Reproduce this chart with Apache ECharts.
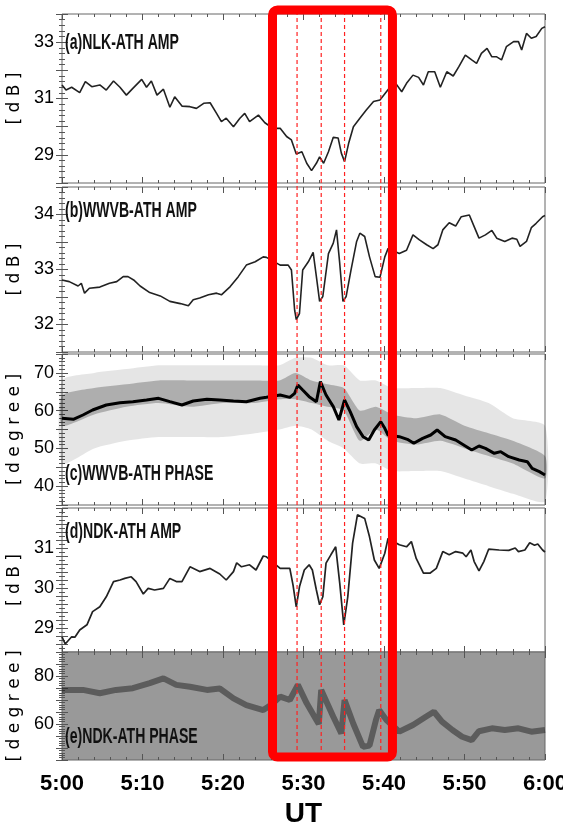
<!DOCTYPE html>
<html lang="en">
<head>
<meta charset="UTF-8">
<title>VLF amplitude / phase</title>
<style>html,body{margin:0;padding:0;background:#fff;}</style>
</head>
<body>
<div id="main" style="width:563px;height:826px;"></div>
<script src="https://cdn.jsdelivr.net/npm/echarts@6/dist/echarts.min.js"></script>
<script>
// time in minutes after 5:00 UT
var xTickLabels = ['5:00', '5:10', '5:20', '5:30', '5:40', '5:50', '6:00'];

// (a) NLK-ATH amplitude [dB]
var aTime = [0,0.5,1.2,2.2,2.9,3.7,4.7,5.5,6.4,7.2,8.0,8.8,9.9,10.5,11.1,11.8,12.6,13.4,14.0,14.9,15.9,16.7,17.6,18.4,19.2,19.8,20.4,21.3,22.1,22.7,23.3,24.4,25.2,26.2,27.1,27.9,28.5,29.1,29.8,30.4,31.0,31.6,32.0,32.5,33.1,33.7,34.3,34.7,35.1,35.6,36.2,37.0,37.8,38.7,39.5,40.3,41.3,42.2,42.8,43.6,44.3,44.9,45.5,46.3,47.0,47.8,48.6,49.3,50.1,50.9,51.5,52.1,52.8,53.4,54.0,54.6,55.2,56.1,56.7,57.1,57.7,58.3,58.9,59.6,60];
var aAmp = [31.48,31.30,31.40,31.21,31.60,31.42,31.48,31.30,31.62,31.40,31.12,31.36,31.68,31.40,31.62,31.12,31.33,30.69,31.06,30.73,30.71,30.65,30.83,30.85,30.47,30.18,30.30,30.00,30.30,30.47,30.18,30.41,30.14,29.94,29.94,29.65,29.53,29.03,29.11,28.70,28.44,28.70,28.93,28.70,29.11,29.62,29.60,29.06,28.76,29.40,30.00,30.30,30.59,30.89,30.95,31.24,31.60,31.24,31.54,31.83,31.75,31.48,31.95,31.95,31.40,31.95,31.80,32.13,32.54,32.37,32.25,32.60,32.78,32.48,32.48,32.37,32.84,33.02,33.02,32.72,33.31,33.14,33.20,33.49,33.55];

// (b) WWVB-ATH amplitude [dB]
var bTime = [0,0.9,2.0,2.4,2.8,3.4,4.7,5.9,6.8,7.6,8.2,8.9,9.7,10.9,12.2,13.4,14.7,15.7,16.3,17.1,18.2,19.2,19.8,20.9,21.9,22.9,24.0,25.0,25.4,27.1,28.1,28.5,28.9,29.1,29.5,29.9,30.6,31.2,31.6,32.0,32.4,33.1,33.7,34.1,34.5,34.9,35.3,35.9,36.6,37.0,37.6,38.2,38.9,39.5,40.1,40.5,41.9,42.8,43.6,44.4,45.3,46.1,46.7,47.3,48.1,48.9,49.6,50.6,51.2,51.8,52.6,53.4,54.0,55.0,55.9,56.5,56.9,57.7,58.3,58.9,59.7,60];
var bAmp = [32.81,32.78,32.70,32.75,32.57,32.66,32.68,32.75,32.78,32.87,32.87,32.81,32.70,32.58,32.52,32.42,32.38,32.34,32.45,32.48,32.54,32.57,32.54,32.69,32.87,33.08,33.14,33.23,33.22,33.08,33.08,32.99,32.26,32.09,32.20,32.99,33.14,33.31,32.87,32.42,32.51,33.29,33.48,33.72,33.11,32.42,32.51,32.99,33.51,33.66,33.60,33.23,32.87,32.86,33.23,33.38,33.29,33.35,33.63,33.54,33.45,33.38,33.45,33.72,33.85,33.79,33.96,33.99,33.78,33.57,33.63,33.71,33.57,33.51,33.57,33.55,33.42,33.51,33.76,33.84,33.96,33.98];

// (c) WWVB-ATH phase [degree]: main trace
var cTime = [0,1.4,2.6,3.8,5.5,7.2,8.8,10.5,12.0,13.4,14.9,16.3,18.0,19.6,21.3,22.9,24.6,25.4,27.1,28.3,28.9,29.3,29.9,30.7,31.6,32.1,32.8,33.7,34.4,35.1,35.8,36.6,37.4,38.1,38.8,39.6,40.1,40.5,41.9,42.9,43.7,44.8,45.8,46.6,47.6,48.9,50.1,50.9,51.8,52.6,53.7,54.5,55.5,56.8,57.8,58.4,59.3,60];
var cPhase = [57.96,57.69,58.84,60.17,61.49,62.11,62.37,62.81,63.26,62.37,61.49,62.55,62.99,62.81,62.55,62.37,63.26,63.52,64.14,63.52,64.58,66.79,65.46,63.70,62.37,67.67,64.14,61.05,57.52,62.81,59.72,55.75,53.10,52.22,54.87,57.07,55.31,53.54,53.10,52.40,51.34,52.66,53.54,54.87,53.10,52.22,50.63,49.57,50.63,50.01,48.69,49.13,47.80,46.92,46.48,44.71,43.83,42.95];
// (c) extent of the scattered points and of their dense core
var cBandTime = [0,4,8,12,16,20,24,27,29,31,33,35,37,39,41,44,47,50,53,56,60];
var cCloudHi = [68,70,71,72,72,72,72,72,74,74,72,72,68,68,66,66,66,64,62,58,56];
var cCloudLo = [46,50,52,53,53,53,54,55,56,55,52,50,46,46,44,44,44,42,40,38,36];
var cCoreHi = [64,66,67,68,68,68,68,68,70,68,67,66,60,61,59,58,59,56,54,52,48];
var cCoreLo = [56,59,61,62,61,62,62,63,63,62,61,60,52,55,52,51,52,50,48,46,42];

// (d) NDK-ATH amplitude [dB]
var dTime = [0,0.4,1.2,1.6,2.2,3.1,3.8,4.7,5.5,6.4,7.2,7.8,8.6,9.2,10.1,10.7,11.5,12.6,13.4,14.2,14.9,15.9,17.1,18.4,19.6,20.4,21.3,21.7,22.3,23.3,24.1,25.0,25.4,27.1,28.3,28.7,29.1,29.5,30.1,30.7,31.1,31.6,32.0,32.4,32.8,33.4,34.0,34.5,35.0,35.5,36.1,36.7,37.6,38.2,38.8,39.4,40.1,40.5,41.9,42.8,43.4,44.0,44.9,45.7,46.5,47.3,48.1,48.9,49.8,50.2,50.8,51.2,51.8,52.4,53.0,54.3,55.5,56.3,56.7,57.5,58.1,58.7,59.1,59.7,60];
var dAmp = [28.78,28.60,28.78,28.77,28.95,29.08,29.41,29.53,29.78,30.16,30.20,30.24,30.28,30.16,29.85,29.99,29.95,29.99,30.24,30.16,30.16,30.53,30.41,30.49,30.35,30.20,30.41,30.63,30.53,30.58,30.45,30.80,30.78,30.49,30.49,30.07,29.53,30.03,30.45,30.58,30.45,29.95,29.58,29.78,30.62,30.83,31.03,30.12,29.08,29.78,31.12,31.83,31.74,31.28,30.70,30.49,30.87,31.24,31.08,31.03,31.16,30.74,30.37,30.37,30.49,30.91,30.83,30.91,30.87,30.78,30.95,30.66,30.43,30.66,30.97,30.95,30.94,31.00,30.91,30.95,31.13,31.07,31.10,30.95,30.90];

// (e) NDK-ATH phase [degree]: dark trace inside the noise
var eTime = [0,2.6,4.7,6.7,8.8,10.9,12.6,14.2,15.9,18.0,19.6,21.3,22.9,25.0,26.0,27.1,28.3,29.3,30.4,31.6,31.9,32.2,33.7,34.7,35.1,36.2,37.4,38.2,39.0,39.4,40.3,41.9,43.6,45.2,46.2,47.2,48.5,49.7,50.9,51.8,53.4,55.0,56.7,58.3,60];
var ePhase = [74.2,74.2,72.8,74.2,74.9,77.0,79.0,76.3,75.5,74.2,74.8,70.7,67.9,65.8,68.0,71.4,70.0,76.3,68.6,61.7,60.0,74.2,63.0,56.1,70.0,60.0,50.5,51.0,61.7,65.8,61.7,56.8,59.6,63.0,65.1,61.0,57.5,54.7,53.3,57.0,58.2,57.5,58.2,56.8,57.5];

// event markers
var eventTimes = [29.2, 32.2, 35.1, 39.6];
var boxRange = [26.15, 41.05];

// axis labels
var aYLabels = [29, 31, 33];
var bYLabels = [32, 33, 34];
var cYLabels = [40, 50, 60, 70];
var dYLabels = [29, 30, 31];
var eYLabels = [60, 80];

var panelTitles = ['(a)NLK-ATH AMP', '(b)WWVB-ATH AMP', '(c)WWVB-ATH PHASE', '(d)NDK-ATH AMP', '(e)NDK-ATH PHASE'];
var panelUnits = ['[ d B ]', '[ d B ]', '[ d e g r e e ]', '[ d B ]', '[ d e g r e e ]'];

var sans = "'Liberation Sans', Arial, sans-serif";

var panels = [
    {top: 14, height: 169, min: 28, max: 34, interval: 1, minor: 5, labels: aYLabels, titleY: 43},
    {top: 187, height: 165, min: 31.5, max: 34.5, interval: 0.5, minor: 5, labels: bYLabels, titleY: 211},
    {top: 354, height: 151, min: 35, max: 75, interval: 5, minor: 5, labels: cYLabels, titleY: 474},
    {top: 508, height: 144, min: 28.4, max: 32, interval: 0.2, minor: 2, labels: dYLabels, titleY: 532},
    {top: 652, height: 108, min: 45, max: 90, interval: 5, minor: 5, labels: eYLabels, titleY: 737}
];

function zip(xs, ys) {
    return xs.map(function (x, i) { return [x, ys[i]]; });
}

var grids = [], xAxes = [], yAxes = [], graphics = [], series = [];
var tickStyle = {color: '#555', width: 1};

panels.forEach(function (p, i) {
    grids.push({
        left: 62, right: 18, top: p.top, height: p.height, outerBoundsMode: 'none',
        show: true, borderColor: '#666', borderWidth: 1,
        backgroundColor: i === 4 ? '#999' : 'transparent'
    });
    // condensed panel captions
    graphics.push({
        type: 'text', x: 65, y: p.titleY, scaleX: 0.64, z: 50, silent: true,
        style: {text: panelTitles[i], font: "bold 22px 'Liberation Sans', Arial, sans-serif", fill: '#111', verticalAlign: 'middle'}
    });
    var labs = p.labels;
    xAxes[i] = {
        type: 'value', gridIndex: i, min: 0, max: 60, interval: 10,
        axisLine: {show: false}, splitLine: {show: false},
        axisTick: {show: true, inside: true, length: 6, lineStyle: tickStyle},
        minorTick: {show: true, splitNumber: 5, length: 3, lineStyle: tickStyle},
        axisLabel: {
            show: i === 4, margin: 13,
            fontFamily: sans, fontWeight: 'bold', fontSize: 22, color: '#000',
            formatter: function (v) { return xTickLabels[Math.round(v / 10)]; }
        },
        name: i === 4 ? 'UT' : '', nameLocation: 'middle', nameGap: 40,
        nameTextStyle: {fontFamily: sans, fontWeight: 'bold', fontSize: 28, color: '#000'}
    };
    xAxes[i + 6] = {
        type: 'value', gridIndex: i, position: 'top', min: 0, max: 60, interval: 10,
        axisLine: {show: false}, splitLine: {show: false}, axisLabel: {show: false},
        axisTick: {show: true, inside: true, length: 6, lineStyle: tickStyle},
        minorTick: {show: true, splitNumber: 5, length: 3, lineStyle: tickStyle}
    };
    yAxes[i] = {
        type: 'value', gridIndex: i, min: p.min, max: p.max, interval: p.interval,
        axisLine: {show: false}, splitLine: {show: false},
        axisTick: {show: true, inside: true, length: 6, lineStyle: tickStyle},
        minorTick: {show: true, splitNumber: p.minor, length: 3, lineStyle: tickStyle},
        axisLabel: {
            margin: 8, fontFamily: sans, fontSize: 18, color: '#000',
            formatter: function (v) {
                var r = Math.round(v);
                return (Math.abs(v - r) < 1e-6 && labs.indexOf(r) >= 0) ? String(r) : '';
            }
        },
        name: panelUnits[i], nameLocation: 'middle', nameRotate: 90, nameGap: 33,
        nameTextStyle: {fontFamily: 'DejaVu Sans', fontSize: 17, color: '#000'}
    };
    yAxes[i + 6] = {
        type: 'value', gridIndex: i, position: 'right', min: p.min, max: p.max, interval: p.interval,
        axisLine: {show: false}, splitLine: {show: false}, axisLabel: {show: false},
        axisTick: {show: true, inside: true, length: 6, lineStyle: tickStyle},
        minorTick: {show: true, splitNumber: p.minor, length: 3, lineStyle: tickStyle}
    };
});

// overlay grid for the highlighted interval
grids.push({left: 62, right: 18, top: 10, height: 747, outerBoundsMode: 'none'});
xAxes[5] = {type: 'value', gridIndex: 5, min: 0, max: 60, show: false};
yAxes[5] = {type: 'value', gridIndex: 5, min: 0, max: 1, show: false};

function trace(i, data, width, color) {
    return {
        type: 'line', xAxisIndex: i, yAxisIndex: i, data: data,
        showSymbol: false, silent: true, animation: false,
        lineStyle: {color: color, width: width}
    };
}
// filled band between two curves, drawn as one polygon through the axes
function band(i, times, lo, hi, color) {
    return {
        type: 'custom', xAxisIndex: i, yAxisIndex: i, data: [[times[0], lo[0]]],
        silent: true, animation: false, z: 1,
        renderItem: function (params, api) {
            var pts = [];
            times.forEach(function (t, k) { pts.push(api.coord([t, hi[k]])); });
            for (var k = times.length - 1; k >= 0; k--) pts.push(api.coord([times[k], lo[k]]));
            return {type: 'polygon', shape: {points: pts, smooth: 0.2}, style: {fill: color}};
        }
    };
}

series.push(trace(0, zip(aTime, aAmp), 1.6, '#222'));
series.push(trace(1, zip(bTime, bAmp), 1.6, '#222'));
series.push(band(2, cBandTime, cCloudLo, cCloudHi, 'rgba(0,0,0,0.10)'));
series.push(band(2, cBandTime, cCoreLo, cCoreHi, 'rgba(0,0,0,0.24)'));
series.push(trace(2, zip(cTime, cPhase), 3, '#000'));
series.push(trace(3, zip(dTime, dAmp), 1.7, '#222'));
series.push(trace(4, zip(eTime, ePhase), 6, 'rgba(0,0,0,0.4)'));

eventTimes.forEach(function (t) {
    series.push({
        type: 'line', xAxisIndex: 5, yAxisIndex: 5, data: [[t, 0], [t, 1]],
        showSymbol: false, silent: true, animation: false, z: 20,
        lineStyle: {color: '#ff2020', width: 1.2, type: [4, 3]}
    });
});
series.push({
    type: 'custom', xAxisIndex: 5, yAxisIndex: 5, data: [boxRange], z: 30,
    encode: {x: [0, 1]}, clip: false, silent: true, animation: false,
    renderItem: function (params, api) {
        var p0 = api.coord([api.value(0), 1]);
        var p1 = api.coord([api.value(1), 0]);
        return {
            type: 'rect',
            shape: {x: p0[0], y: p0[1], width: p1[0] - p0[0], height: p1[1] - p0[1], r: 5},
            style: {fill: 'none', stroke: '#ff0000', lineWidth: 9}
        };
    }
});

var myChart = echarts.init(document.getElementById('main'));
myChart.setOption({
    backgroundColor: '#fff',
    animation: false,
    grid: grids,
    xAxis: xAxes,
    yAxis: yAxes,
    graphic: graphics,
    series: series
});
</script>
</body>
</html>
